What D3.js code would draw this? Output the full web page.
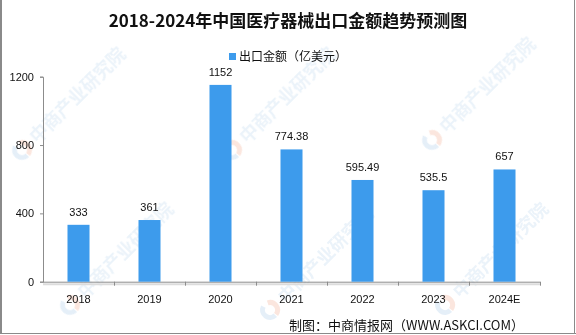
<!DOCTYPE html>
<html>
<head>
<meta charset="utf-8">
<script src="https://cdn.jsdelivr.net/npm/d3@7/dist/d3.min.js"></script>
<style>
  html, body { margin: 0; padding: 0; background: #fff; }
  svg { display: block; }
</style>
</head>
<body>
<svg id="chart" width="576" height="335"></svg>
<script>
// Export value of Chinese medical devices, 2018–2024E (100 million USD)
const categories = ["2018", "2019", "2020", "2021", "2022", "2023", "2024E"];
const exportValues = [333, 361, 1152, 774.38, 595.49, 535.5, 657];
const valueLabels = ["333", "361", "1152", "774.38", "595.49", "535.5", "657"];
const yTicks = [0, 400, 800, 1200];

const titleText = "2018-2024年中国医疗器械出口金额趋势预测图";
const legendText = "出口金额（亿美元）";
const sourceText = "制图：中商情报网（WWW.ASKCI.COM）";
const watermarkText = "中商产业研究院";

const svg = d3.select("#chart");
const W = 576, H = 335;
const plot = { left: 43, right: 540, top: 76.7, bottom: 281.7 };
const barColor = "#3d9bec";
const cjk = "'Noto Sans CJK SC', 'Noto Sans', sans-serif";

svg.append("rect").attr("width", W).attr("height", H).attr("fill", "#fff");

// faint diagonal watermark tiles (logo ring + name)
const wm = svg.append("g").attr("opacity", 0.45);
const wmSpots = [[22, 150], [232, 150], [432, 140], [70, 305], [270, 310], [445, 305]];
wmSpots.forEach(([x, y]) => {
  const g = wm.append("g").attr("transform", `translate(${x},${y}) rotate(-45)`);
  g.append("path")
    .attr("d", d3.arc()({ innerRadius: 5, outerRadius: 10, startAngle: Math.PI * 0.15, endAngle: Math.PI * 0.95 }))
    .attr("fill", "#f6c8b6");
  g.append("path")
    .attr("d", d3.arc()({ innerRadius: 5, outerRadius: 10, startAngle: Math.PI * 1.0, endAngle: Math.PI * 1.9 }))
    .attr("fill", "#c6dcf0");
  g.append("text")
    .attr("x", 15).attr("y", 7)
    .attr("font-family", cjk).attr("font-size", 18).attr("font-weight", "bold")
    .attr("fill", "#d3e4f3")
    .text(watermarkText);
});

// frame edges
svg.append("line").attr("x1", 1).attr("x2", 1).attr("y1", 0).attr("y2", 334)
  .attr("stroke", "#8a8a8a").attr("stroke-width", 2);
svg.append("line").attr("x1", 574.5).attr("x2", 574.5).attr("y1", 0).attr("y2", 334)
  .attr("stroke", "#8a8a8a").attr("stroke-width", 1);
svg.append("line").attr("x1", 0).attr("x2", 576).attr("y1", 333.5).attr("y2", 333.5)
  .attr("stroke", "#8a8a8a").attr("stroke-width", 1);

// scales
const x = d3.scaleBand()
  .domain(categories)
  .range([plot.left, plot.right])
  .paddingInner(0.69)
  .paddingOuter(0.345);
const y = d3.scaleLinear().domain([0, 1200]).range([plot.bottom, plot.top]);

// title
svg.append("text")
  .attr("x", 288).attr("y", 27)
  .attr("text-anchor", "middle")
  .attr("font-family", "'Noto Sans CJK SC', sans-serif")
  .attr("font-size", 17).attr("font-weight", "bold")
  .attr("fill", "#111")
  .text(titleText);

// legend
svg.append("rect").attr("x", 229).attr("y", 53).attr("width", 7).attr("height", 7).attr("fill", barColor);
svg.append("text")
  .attr("x", 239).attr("y", 61)
  .attr("font-family", cjk).attr("font-size", 12).attr("fill", "#111")
  .text(legendText);

// y axis
const yAxis = d3.axisLeft(y).tickValues(yTicks).tickSize(3).tickPadding(6).tickFormat(d3.format("d"));
const gy = svg.append("g").attr("transform", `translate(${plot.left},0)`).call(yAxis);
gy.select(".domain").attr("stroke", "#8c8c8c");
gy.selectAll(".tick line").attr("stroke", "#8c8c8c");
gy.selectAll(".tick text")
  .attr("font-family", "'Liberation Sans', Arial, sans-serif")
  .attr("font-size", 11).attr("fill", "#111");

// x axis with ticks at band boundaries
const gx = svg.append("g").attr("transform", `translate(0,${plot.bottom})`);
gx.append("line").attr("x1", plot.left).attr("x2", plot.right).attr("y1", 2.5).attr("y2", 2.5)
  .attr("stroke", "#dcdcdc").attr("stroke-width", 2);
gx.append("line").attr("x1", plot.left).attr("x2", plot.right).attr("y1", 0.5).attr("y2", 0.5)
  .attr("stroke", "#8c8c8c");
const boundaries = categories.map(c => x(c) - x.step() * x.paddingInner() / 2).concat([plot.right]);
gx.selectAll("line.tk").data(boundaries.slice(1)).join("line")
  .attr("class", "tk")
  .attr("x1", d => Math.round(d) + 0.5).attr("x2", d => Math.round(d) + 0.5)
  .attr("y1", 0).attr("y2", 4)
  .attr("stroke", "#8c8c8c");
gx.selectAll("text").data(categories).join("text")
  .attr("x", d => x(d) + x.bandwidth() / 2)
  .attr("y", 21)
  .attr("text-anchor", "middle")
  .attr("font-family", "'Liberation Sans', Arial, sans-serif")
  .attr("font-size", 11).attr("fill", "#111")
  .text(d => d);

// bars
svg.append("g").selectAll("rect").data(categories).join("rect")
  .attr("x", d => x(d))
  .attr("y", (d, i) => y(exportValues[i]))
  .attr("width", x.bandwidth())
  .attr("height", (d, i) => y(0) - y(exportValues[i]))
  .attr("fill", barColor);

// value labels
svg.append("g").selectAll("text").data(categories).join("text")
  .attr("x", d => x(d) + x.bandwidth() / 2)
  .attr("y", (d, i) => y(exportValues[i]) - 9)
  .attr("text-anchor", "middle")
  .attr("font-family", "'Liberation Sans', Arial, sans-serif")
  .attr("font-size", 11).attr("fill", "#111")
  .text((d, i) => valueLabels[i]);

// source note
svg.append("text")
  .attr("x", 524).attr("y", 330)
  .attr("text-anchor", "end")
  .attr("font-family", cjk).attr("font-size", 13).attr("fill", "#111")
  .text(sourceText);
</script>
</body>
</html>
